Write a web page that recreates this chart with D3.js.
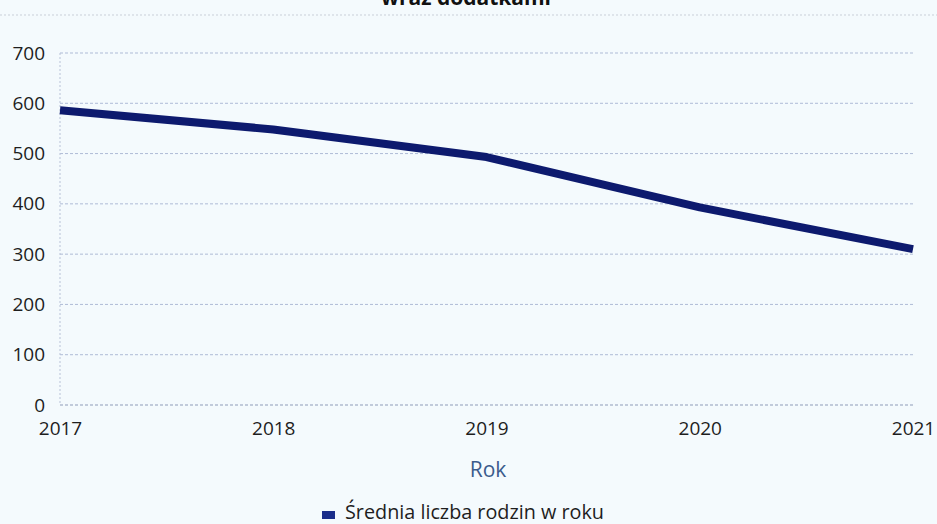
<!DOCTYPE html>
<html><head><meta charset="utf-8">
<script src="https://cdn.jsdelivr.net/npm/d3@7"></script>
<style>
html,body{margin:0;padding:0;background:#f4fafd;}
svg{display:block;font-family:"Open Sans","Noto Sans",sans-serif;}
</style></head>
<body>
<svg id="chart" width="937" height="524"></svg>
<script>
const years = [2017, 2018, 2019, 2020, 2021];
const values = [586, 548, 493, 393, 310];
const yTicks = [0, 100, 200, 300, 400, 500, 600, 700];
const seriesName = "Średnia liczba rodzin w roku";
const xTitle = "Rok";
const titleFragment = "wraz dodatkami";

const svg = d3.select("#chart");
const W = 937, H = 524;
const m = {left: 60, right: 24, top: 53, bottom: 119};
const x = d3.scalePoint().domain(years).range([m.left, W - m.right]);
const y = d3.scaleLinear().domain([0, 700]).range([H - m.bottom, m.top]);
const FONT = "'Open Sans','Noto Sans',sans-serif";

svg.append("rect").attr("width", W).attr("height", H).attr("fill", "#f4fafd");

// title fragment cut at top
svg.append("text").attr("x", 466).attr("y", 5).attr("text-anchor", "middle")
  .attr("font-size", 21).attr("font-weight", "bold").attr("fill", "#111")
  .attr("font-family", FONT).text(titleFragment);
svg.append("line").attr("x1", 0).attr("x2", W).attr("y1", 15).attr("y2", 15)
  .attr("stroke", "#c9cfd8").attr("stroke-width", 1).attr("stroke-dasharray", "2,2");

// gridlines
svg.append("g").selectAll("line").data(yTicks).join("line")
  .attr("x1", m.left).attr("x2", W - m.right)
  .attr("y1", d => y(d)).attr("y2", d => y(d))
  .attr("stroke", d => d === 0 ? "#8e9bb8" : "#aebbd6").attr("stroke-width", 1)
  .attr("stroke-dasharray", "3,2");
// left dotted axis
svg.append("line").attr("x1", m.left).attr("x2", m.left).attr("y1", y(700)).attr("y2", y(0))
  .attr("stroke", "#b8c2d8").attr("stroke-dasharray", "2,2");

// y axis labels
const ya = svg.append("g").attr("transform", `translate(${m.left},0)`)
  .call(d3.axisLeft(y).tickValues(yTicks).tickSize(0).tickPadding(15));
ya.select(".domain").remove();
ya.selectAll("text").attr("font-size", 19).attr("fill", "#1e1e1e").attr("font-family", FONT);

// x axis labels
const xa = svg.append("g").attr("transform", `translate(0,${y(0)})`)
  .call(d3.axisBottom(x).tickSize(0).tickPadding(17).tickFormat(d3.format("d")));
xa.select(".domain").remove();
xa.selectAll("text").attr("font-size", 19).attr("fill", "#1e1e1e").attr("font-family", FONT);

// line
svg.append("path").datum(years.map((yr, i) => [yr, values[i]]))
  .attr("fill", "none").attr("stroke", "#0d1a6e").attr("stroke-width", 8)
  .attr("stroke-linejoin", "round")
  .attr("d", d3.line().x(d => x(d[0])).y(d => y(d[1])).curve(d3.curveLinear));

// x title
svg.append("text").attr("x", 488).attr("y", 477).attr("text-anchor", "middle")
  .attr("font-size", 21).attr("fill", "#3b5b8c").attr("font-family", FONT).text(xTitle);

// legend
svg.append("rect").attr("x", 322).attr("y", 511).attr("width", 13).attr("height", 8).attr("fill", "#1a2d8a");
svg.append("text").attr("x", 345).attr("y", 519).attr("font-size", 19.8).attr("fill", "#1e1e1e")
  .attr("font-family", FONT).text(seriesName);
</script>
</body></html>
